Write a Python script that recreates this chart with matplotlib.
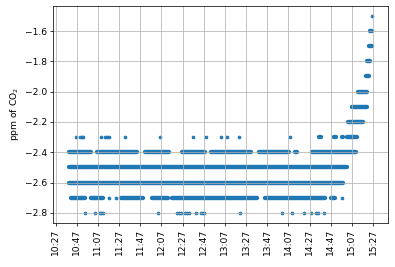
import datetime as dt
import matplotlib
matplotlib.use("Agg")
import matplotlib.pyplot as plt
import matplotlib.dates as mdates
import matplotlib.ticker as mticker

# Times are minutes after 10:00 (same day); values are ppm of CO2
START = dt.datetime(2021, 1, 1, 10, 0)

# Continuous runs of readings: (start_minute, end_minute) per level
RUNS_M1_6 = [(323.8, 326.3)]
RUNS_M1_7 = [(323.2, 326.3)]
RUNS_M1_8 = [(321.6, 324.2)]
RUNS_M1_9 = [(320.0, 323.2)]
RUNS_M2_0 = [(312.8, 321.6)]
RUNS_M2_1 = [(307.5, 321.6)]
RUNS_M2_2 = [(303.7, 317.8)]
RUNS_M2_3 = [(275.8, 277.7), (290.0, 291.9), (297.5, 298.4), (302.7, 312.2)]
RUNS_M2_4 = [(39.9, 60.1), (66.2, 104.0), (111.5, 134.2), (146.9, 168.2),
             (174.3, 212.1), (219.6, 247.5), (253.2, 255.0), (269.7, 310.8)]
RUNS_M2_5 = [(39.3, 302.7)]
RUNS_M2_6 = [(39.9, 299.0)]
RUNS_M2_7 = [(42.1, 55.3), (60.5, 72.3), (88.9, 110.1), (117.7, 133.7),
             (137.5, 217.7), (225.3, 281.7), (287.6, 291.2)]

# Isolated readings: minute per level
POINTS_M1_5 = [326.5]
POINTS_M2_3 = [45.9, 50.1, 51.6, 53.0, 70.0, 74.2, 76.1, 78.0, 92.4, 125.5,
               156.7, 168.9, 183.1, 188.8, 200.1, 248.2]
POINTS_M2_7 = [77.5, 83.7, 297.4]
POINTS_M2_8 = [55.3, 64.1, 69.0, 70.4, 71.7, 123.6, 141.7, 143.4, 145.5,
               149.3, 151.4, 153.5, 159.9, 164.4, 166.1, 167.7, 200.9,
               240.6, 250.1, 261.5, 268.1, 273.0, 274.9, 280.5]

RUNS = {-1.6: RUNS_M1_6, -1.7: RUNS_M1_7, -1.8: RUNS_M1_8, -1.9: RUNS_M1_9,
        -2.0: RUNS_M2_0, -2.1: RUNS_M2_1, -2.2: RUNS_M2_2, -2.3: RUNS_M2_3,
        -2.4: RUNS_M2_4, -2.5: RUNS_M2_5, -2.6: RUNS_M2_6, -2.7: RUNS_M2_7}
POINTS = {-1.5: POINTS_M1_5, -2.3: POINTS_M2_3, -2.7: POINTS_M2_7,
          -2.8: POINTS_M2_8}

base = mdates.date2num(START)


def tnum(m):
    return base + m / 1440.0


COLOR = "#1f77b4"
DPI = 66
fig = plt.figure(figsize=(395 / DPI, 267 / DPI), dpi=DPI)
ax = fig.add_axes([0.135, 0.166, 0.8465, 0.8115])

for level, runs in RUNS.items():
    xs0 = [tnum(a) for a, b in runs]
    xs1 = [tnum(b) for a, b in runs]
    ax.hlines([level] * len(runs), xs0, xs1, colors=COLOR, linewidth=4.8,
              capstyle="round", zorder=1)
for level, pts in POINTS.items():
    ax.scatter([tnum(p) for p in pts], [level] * len(pts), s=9,
               color=COLOR, linewidths=1.0, zorder=1)

ax.xaxis.set_major_locator(mdates.MinuteLocator(byminute=[7, 27, 47]))
ax.xaxis.set_major_formatter(mdates.DateFormatter("%H:%M"))
ax.yaxis.set_major_locator(mticker.MultipleLocator(0.2))
ax.tick_params(axis="x", labelrotation=90)
ax.grid(True)
ax.set_ylabel("ppm of CO$_2$")

fig.savefig("out.png", dpi=DPI)
